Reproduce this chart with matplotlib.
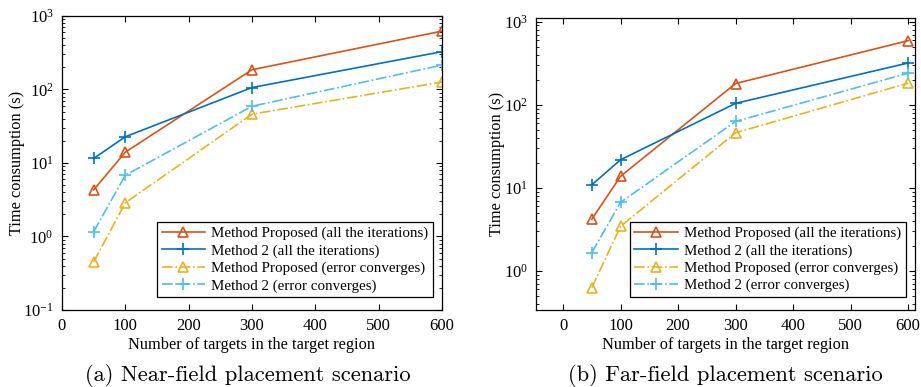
import matplotlib
matplotlib.use("Agg")
import matplotlib.pyplot as plt
from matplotlib.ticker import LogLocator, NullFormatter, NullLocator

plt.rcParams["font.family"] = ["Liberation Serif", "DejaVu Serif"]
plt.rcParams["mathtext.fontset"] = "custom"
plt.rcParams["mathtext.rm"] = "Liberation Serif"

n_targets = [50, 100, 300, 600]

# near-field scenario
near_prop_all = [4.3, 14.0, 185, 620]
near_m2_all = [11.5, 22.7, 106, 326]
near_prop_err = [0.45, 2.87, 46, 126]
near_m2_err = [1.16, 6.8, 59, 214]

# far-field scenario
far_prop_all = [4.2, 13.8, 180, 590]
far_m2_all = [10.9, 21.8, 104, 318]
far_prop_err = [0.63, 3.45, 46, 182]
far_m2_err = [1.66, 6.7, 63, 240]

labels = ["Method Proposed (all the iterations)", "Method 2 (all the iterations)",
          "Method Proposed (error converges)", "Method 2 (error converges)"]
colors = ["#D95319", "#0072BD", "#EDB120", "#4DBEEE"]
styles = ["-", "-", "-.", "-."]
markers = ["^", "+", "^", "+"]

fig = plt.figure(figsize=(9.21, 3.87), dpi=100)
ax1 = fig.add_axes([0.0673, 0.199, 0.4126, 0.760])
ax2 = fig.add_axes([0.582, 0.199, 0.4115, 0.754])


def draw(ax, series, xlim, ylim, leg_anchor, ylabel_x):
    for y, lab, c, ls, m in zip(series, labels, colors, styles, markers):
        ax.plot(n_targets, y, ls, color=c, marker=m, markersize=7 if m == "^" else 8,
                markerfacecolor="none", markeredgewidth=1.2, linewidth=1.2, label=lab)
    ax.set_yscale("log")
    ax.set_xlim(*xlim)
    ax.set_ylim(*ylim)
    ax.set_xticks([0, 100, 200, 300, 400, 500, 600])
    ax.xaxis.set_minor_locator(NullLocator())
    ax.yaxis.set_major_locator(LogLocator(base=10, numticks=10))
    ax.yaxis.set_minor_locator(LogLocator(base=10, subs=range(2, 10), numticks=20))
    ax.yaxis.set_minor_formatter(NullFormatter())
    ax.tick_params(which="both", direction="in", top=True, right=True, labelsize=12)
    ax.tick_params(which="major", length=4, pad=6)
    ax.tick_params(which="minor", length=2)
    for s in ax.spines.values():
        s.set_linewidth(0.9)
    ax.set_xlabel("Number of targets in the target region", fontsize=11.8, labelpad=2)
    ax.set_ylabel("Time consumption (s)", fontsize=11.8, va="center")
    ax.yaxis.set_label_coords(ylabel_x, 0.5)
    leg = ax.legend(loc="lower right", bbox_to_anchor=leg_anchor, fontsize=10.8,
                    handlelength=2.9, fancybox=False, edgecolor="black", framealpha=1,
                    borderpad=0.3, labelspacing=0.25, handletextpad=0.4, borderaxespad=0)
    leg.get_frame().set_linewidth(0.9)


draw(ax1, [near_prop_all, near_m2_all, near_prop_err, near_m2_err],
     (0, 600), (0.1, 1000), (0.976, 0.044), -0.118)
draw(ax2, [far_prop_all, far_m2_all, far_prop_err, far_m2_err],
     (-47, 612), (0.34, 1100), (0.975, 0.045), -0.104)

fig.text(0.2687, 0.03, "(a) Near-field placement scenario", fontsize=16.2,
         family="cmr10", ha="center", va="center")
fig.text(0.7872, 0.03, "(b) Far-field placement scenario", fontsize=16.2,
         family="cmr10", ha="center", va="center")

fig.savefig("out.png", dpi=100)
